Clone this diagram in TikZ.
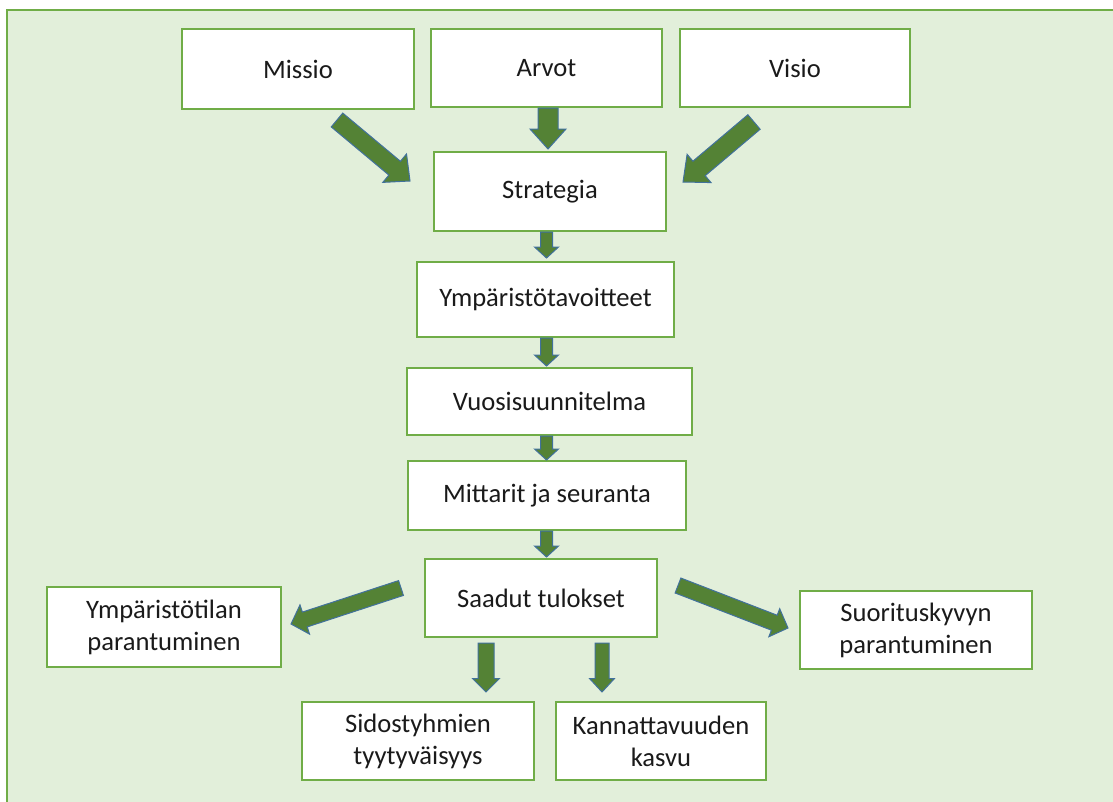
\documentclass[tikz,border=0pt]{standalone}
\usepackage{fontspec}
\setmainfont{Carlito}
\usetikzlibrary{calc}
\definecolor{panelfill}{HTML}{E2EFDA}
\definecolor{panelline}{HTML}{70AD47}
\definecolor{boxline}{HTML}{70AD47}
\definecolor{arrfill}{HTML}{548235}
\definecolor{arrline}{HTML}{41719C}
\definecolor{txt}{HTML}{1A1A1A}
\tikzset{
  box/.style={draw=boxline, line width=1.6pt, fill=white, inner sep=0pt, align=center,
    text=txt, font=\fontsize{26.6}{32}\selectfont},
  arr/.style={fill=arrfill, draw=arrline, line width=1pt, line join=miter},
}
\newcommand\barrow[5]{%
  \coordinate (bM) at ($(#2)!#5!(#1)$);
  \filldraw[arr] ($(#1)!#3!90:(#2)$) -- ($(bM)!#3!90:(#2)$) -- ($(bM)!#4!90:(#2)$) -- (#2)
    -- ($(bM)!#4!-90:(#2)$) -- ($(bM)!#3!-90:(#2)$) -- ($(#1)!#3!-90:(#2)$) -- cycle;}
\begin{document}
\begin{tikzpicture}[x=1pt,y=-1pt]
\useasboundingbox (0,0) rectangle (1113,801);
\clip (0,0) rectangle (1113,801);
\fill[white] (0,0) rectangle (1113,801);
\draw[draw=panelline, fill=panelfill, line width=2pt] (7,10) rectangle (1125,815);

\node[box, minimum width=232, minimum height=80] (missio) at (298,69) {Missio};
\node[box, minimum width=231, minimum height=78] (arvot) at (546.5,68) {Arvot};
\node[box, minimum width=230, minimum height=78] (visio) at (795,68) {Visio};
\node[box, minimum width=232, minimum height=79] (strat) at (550,191.5) {Strategia};
\node[box, minimum width=257, minimum height=75] (ymptav) at (545.5,299.5) {Ympäristötavoitteet};
\node[box, minimum width=285, minimum height=67] (vuosi) at (549.5,401.5) {Vuosisuunnitelma};
\node[box, minimum width=278, minimum height=69] (mitt) at (547,495.5) {Mittarit ja seuranta};
\node[box, minimum width=232, minimum height=78] (saadut) at (541,598) {Saadut tulokset};
\node[box, minimum width=234, minimum height=80] (ymptila) at (164,627) {Ympäristötilan\\parantuminen};
\node[box, minimum width=232, minimum height=78] (suor) at (916,630) {Suorituskyvyn\\parantuminen};
\node[box, minimum width=232, minimum height=78] (sido) at (418,741) {Sidostyhmien\\tyytyväisyys};
\node[box, minimum width=210, minimum height=78] (kanna) at (661,741) {Kannattavuuden\\kasvu};

% arrow end points
\coordinate (m1) at (337,120);   \coordinate (m2) at (410,181);
\coordinate (a1) at (548,108);   \coordinate (a2) at (548,149);
\coordinate (v1) at (754,122);   \coordinate (v2) at (683,182);
\coordinate (s1) at (546.5,232); \coordinate (s2) at (546.5,258);
\coordinate (y1) at (546.5,338); \coordinate (y2) at (546.5,366);
\coordinate (u1) at (546.5,436); \coordinate (u2) at (546.5,460);
\coordinate (t1) at (546.5,531); \coordinate (t2) at (546.5,557);
\coordinate (l1) at (401,588);   \coordinate (l2) at (291,624);
\coordinate (r1) at (678,585.5); \coordinate (r2) at (788,628);
\coordinate (d1) at (486,643);   \coordinate (d2) at (486,692);
\coordinate (k1) at (602,643);   \coordinate (k2) at (602,692);

\barrow{m1}{m2}{9pt}{18.5pt}{20pt}
\barrow{a1}{a2}{10pt}{18pt}{20pt}
\barrow{v1}{v2}{9.5pt}{18.5pt}{21pt}
\barrow{s1}{s2}{6pt}{12pt}{11pt}
\barrow{y1}{y2}{6pt}{12pt}{11pt}
\barrow{u1}{u2}{6pt}{12pt}{11pt}
\barrow{t1}{t2}{6pt}{12pt}{11pt}
\barrow{l1}{l2}{7.8pt}{15.4pt}{14.5pt}
\barrow{r1}{r2}{8pt}{15pt}{14.7pt}
\barrow{d1}{d2}{8pt}{13.5pt}{13.5pt}
\barrow{k1}{k2}{7pt}{12.5pt}{13.5pt}
\end{tikzpicture}
\end{document}
